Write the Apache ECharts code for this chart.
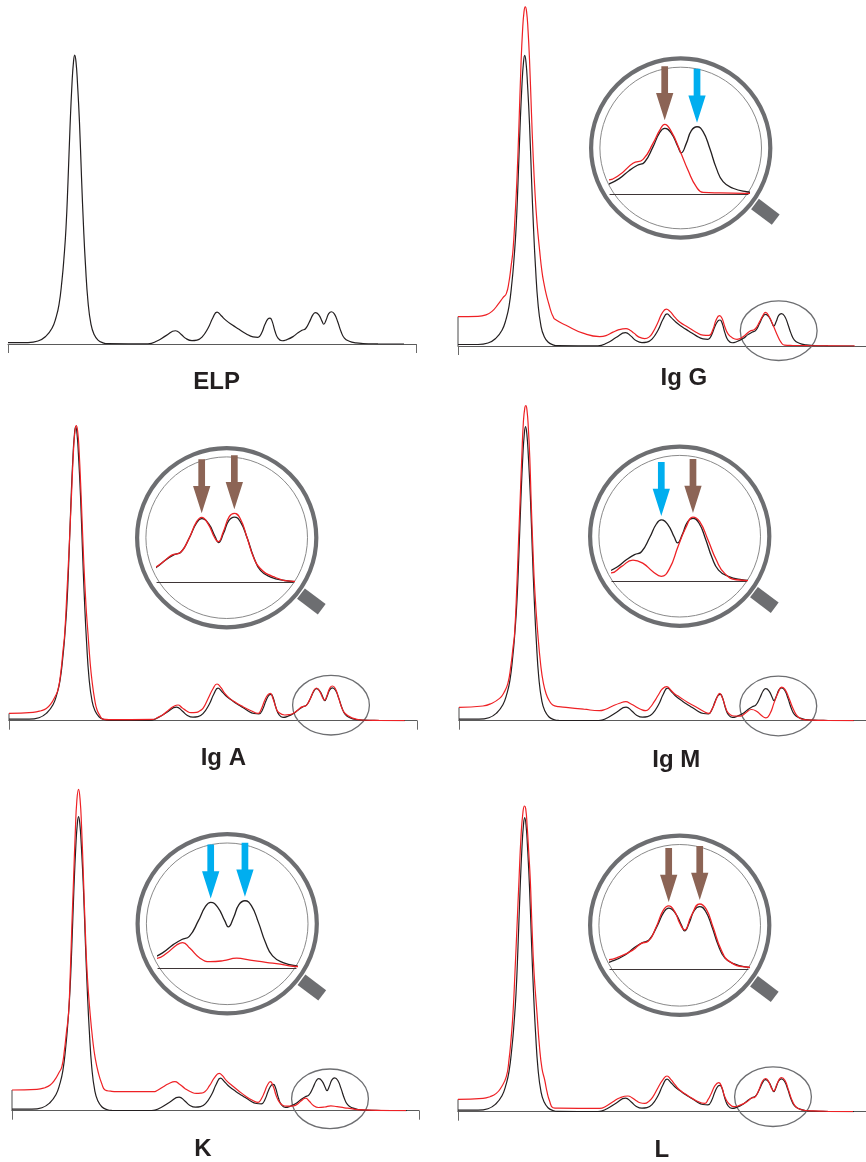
<!DOCTYPE html>
<html>
<head>
<meta charset="utf-8">
<script src="https://cdn.jsdelivr.net/npm/echarts@6/dist/echarts.min.js"></script>
<style>
html,body{margin:0;padding:0;background:#fff;}
#chart{width:866px;height:1162px;}
</style>
</head>
<body>
<div id="chart"></div>
<script>
// ---------------- DATA (mobility position, signal intensity) ----------------
const panelNames = ['ELP', 'Ig G', 'Ig A', 'Ig M', 'K', 'L'];

// reference serum protein electrophoresis (black trace, same in all panels)
const elp = [
  [0,1.5],[20,1.5],[30,3],[38,8],[44,16],[48,27],[51,40],[54,65],[56,88],[58,118],[60,165],[62,220],
  [64,265],[65.5,287],[66.7,294],[68,287],[69.5,265],[71.5,225],[73.5,170],[75.5,120],[77.5,80],[80,43],
  [83,20],[86,10],[90,4],[95,1.2],[100,0.3],[140,0.2],[149,3],[158,8.5],[167.5,13.5],[173,10],[178,5.5],
  [184,3.5],[189,4],[194,7],[200,16],[205,27],[209,32.5],[213,29],[218,24],[224,19.5],[231,15],[238,10.5],
  [245,7.2],[250,6.8],[253.5,11],[257,20],[260,25.5],[262,26.3],[264,23.5],[267,13],[270,6],[274,3.3],
  [279,4.5],[285,7.5],[290,11.5],[294,14],[297.5,15.5],[301.7,23],[305,29.9],[307.5,32],[310.8,29.6],
  [314.1,23],[315.7,20.1],[318.2,24.7],[320.7,30.9],[323.5,32.8],[326.5,30.4],[329.8,22.3],[333.1,12.5],
  [336.4,6],[341.3,2.8],[348,1.1],[355,0.5],[370,0.2],[396,0]
];

// immunofixation / subtraction traces (red)
const igG = [
  [0,29.7],[20,30],[28,31.5],[34,35],[40,42],[45,49],[48.3,53],[51,65],[53,80],[55,97],[57,130],[59,170],
  [61,225],[63,285],[64.5,318],[66,338],[67.3,343],[68.6,338],[70,320],[71.5,290],[73.5,235],[75,196],
  [77,155],[79,125],[81.7,96],[84,75],[86,63],[88.3,52],[91,42],[93,35],[95,30],[97,27],[108,21],[125,13],
  [141.7,9.5],[148,10.5],[155,14],[161,16.5],[168,17.5],[172,16],[176,13],[181,9],[186.7,7.5],[191,9],
  [195,14],[200,24],[204,33],[208.3,37.3],[212,35],[217,29],[222,24],[230,19],[238,14],[245,11],[251,10.7],
  [255,17],[258,26],[261.5,30.7],[264,28],[267,19],[270,12.3],[274,8.5],[279,6.8],[285,9.3],[291.8,15],
  [296.8,16.9],[301.7,24.7],[305,31],[307.5,34],[310.8,30.4],[314.9,21.5],[319,11.7],[323.1,3.6],
  [326.5,0.8],[335,0.5],[350,0.3],[397,0]
];
const igA = [
  [0,7.3],[24,8.3],[32,10],[37.3,12.3],[42,17],[46,24],[49,31],[52,50],[54,70],[55.7,87],[58,130],[60,170],
  [62.3,221],[64.5,270],[66,290],[67.3,295],[68.6,290],[70,272],[72.3,221],[74.5,165],[77,115],[79,87],
  [81,60],[83,40],[85.7,21],[88,11],[91,5],[94,1.5],[100,1],[144,1.3],[149,3.5],[154,6],[160,11],[165,14.5],
  [169,15.7],[173,13],[177.3,10],[182,8],[187.3,8.3],[191,10],[194,12.3],[199,22],[204,32],[208,36.7],
  [212,33],[216,27],[220.7,22.3],[227,18],[234,14],[242,10],[249,7.3],[252,11],[256,21],[259,26],
  [261.3,27.3],[264,22],[267,13],[269,9],[275.7,5.7],[280,6],[284,7.2],[288.7,10.5],[292.8,13.8],
  [296.9,15],[300.9,21.3],[305,30.5],[307.5,32.7],[310.7,29.3],[314,22.2],[315.6,20.5],[318.1,25.5],
  [321,33],[323.5,34.7],[326.3,32.2],[329.6,23],[332.8,13],[336.1,7.2],[342.6,3],[352.4,0.7],[370,0.3],
  [395.7,0]
];
const igM = [
  [0,13.3],[24,14.7],[32,17],[40.7,22.3],[45,28],[49,37.3],[52,55],[54,72],[55.7,87],[58,135],[59.5,175],
  [61.3,221],[63,265],[64.5,298],[66,313],[67,315],[68.2,310],[69.5,293],[71,262],[72.3,221],[74,175],
  [76,130],[79,87],[82,55],[84.5,38],[87.3,27],[90.5,20],[94,15.7],[100,14],[107.3,13.3],[125,11.5],
  [140.7,10],[147,11.5],[154,14.7],[161,17.5],[167.3,19],[172,17],[177.3,14],[182,11.5],[187.3,10],
  [191,12.5],[195.7,19],[200,26],[204,32],[208.3,34],[212,31],[216,27],[220.7,24],[229,18.5],[237.3,14],
  [245,9.5],[250.7,7.3],[253,10.5],[255.7,15.7],[258.5,23],[261.3,27.3],[264,23],[267,14],[269,9],[272,6],
  [275.7,4.7],[282.2,4.6],[287.3,7.8],[293.2,11.2],[298.3,9.5],[303.3,5.2],[307.5,2.8],[311.7,6.9],
  [315.9,18.1],[320.1,28.5],[323.5,33.5],[326.9,31.1],[331.1,21.6],[335.3,11.2],[339.5,4.3],[345.4,1],
  [354,0.5],[370,0.2],[395.7,0]
];
const kappa = [
  [0,20.7],[25,21.3],[33,23],[38.3,25.7],[43,31],[47,38],[50,44],[52.5,60],[54.5,78],[56.7,97.3],[58.5,140],
  [60,185],[61.7,231],[63.5,280],[65,310],[66.7,321.3],[68.2,312],[69.7,285],[71.7,231],[73.5,180],
  [75.5,135],[78.3,97.3],[81,70],[83.5,52],[86.7,37.3],[90,27],[93.3,20.7],[99,19.5],[105,19],[141.7,19],
  [146,20.5],[151.7,24],[157,27],[163.3,29],[168,26.5],[173.3,22.3],[179,19],[185,17.3],[189,17.5],
  [193.3,19],[198,25],[203,33],[207.7,37.3],[211,35],[215,30],[220,25.7],[227,20],[235,14],[241,10.5],
  [246.7,8.3],[250,12],[253.3,19],[256,25.5],[259,29],[262,24],[264.5,16],[266.7,10.7],[270,6.5],
  [273.3,4.7],[278,4.5],[282.3,4.8],[286.9,7.3],[291.6,11.3],[294.4,12.5],[297.8,9.7],[302.5,4.9],
  [307.2,3.2],[313.4,3.7],[319.6,4.9],[325.9,4],[333.3,2.9],[340,2],[345.9,1],[365,0.4],[395,0]
];
const lambda = [
  [0,12.3],[25,13.3],[32,15],[38.3,18.3],[43,24],[48.3,35],[51,52],[53,72],[55,98.3],[57,140],[59,185],
  [61,231.7],[63,275],[65,300],[66.5,305.7],[67.7,303],[69.2,285],[70.7,260],[72.3,231.7],[74,185],[76,140],
  [79,98.3],[81.5,65],[84,43],[86.7,31.7],[89,20],[91.5,11],[95,4],[100,3.5],[141.7,3.3],[148,5.5],[155,10],
  [162,14],[170,15.7],[174,14],[178.3,11],[182,9],[186.7,8.3],[191,10.5],[195,15],[200,24],[205,32],
  [209,35.7],[213,32],[217,27],[221.7,21.7],[230,16],[238.3,11],[246.7,8.3],[250,12],[253.3,18.3],[257,26],
  [260.7,29],[264,24],[266,17],[268.3,11.7],[271,8],[276.2,5],[282.2,6.6],[289.1,10.1],[293.4,13.6],
  [296.8,14.5],[301.1,22.3],[304.6,30.7],[307.5,33.2],[310.6,30.2],[313.2,24.1],[315.7,20.6],[319.1,27.9],
  [323.5,34.2],[326.9,31.4],[330.3,22.3],[334.6,10.1],[338.9,4],[347.5,1.2],[355,0.8],[370,0.4],[395,0]
];

// peaks marked by arrows in the magnified views (mobility positions)
const arrowsIgG = [307.5, 323.5];
const arrowsIgA = [307.5, 323.5];
const arrowsIgM = [307.5, 323.5];
const arrowsK   = [307.5, 323.5];
const arrowsL   = [307.5, 323.5];

// ---------------- STYLE / LAYOUT ----------------
const BLACK = '#231f20', RED = '#ee2125', BROWN = '#8c6455', BLUE = '#00aeef', GRAY = '#6d6e71';
const Y_MAX = 350, X_MAX = 408;

const panels = [
  {name: panelNames[0], red: null,   left: 8,   width: 408, base: 344,   label: [216.7, 382.5]},
  {name: panelNames[1], red: igG,    left: 458, width: 408, base: 346,   label: [683.8, 378.5],
   inset: {left: 610, right: 748, base: 194,   sx: 2.02, sy: 2.05, pA: 664.7, c: [680.7, 148],  ell: [778.7, 330.7]},
   arrows: arrowsIgG, arrowOn: ['red', 'black'], arrowCol: [BROWN, BLUE]},
  {name: panelNames[2], red: igA,    left: 9,   width: 408, base: 720.7, label: [223.3, 758],
   inset: {left: 157, right: 293.3, base: 582.7, sx: 2.04, sy: 2.0, pA: 201.7, c: [226.7, 537.7], ell: [331, 705.2]},
   arrows: arrowsIgA, arrowOn: ['red', 'red'], arrowCol: [BROWN, BROWN]},
  {name: panelNames[3], red: igM,    left: 459, width: 407, base: 720.7, label: [676.3, 760.5],
   inset: {left: 612, right: 746.3, base: 581.7, sx: 1.98, sy: 1.93, pA: 661.3, c: [679.7, 536.2], ell: [778.3, 706]},
   arrows: arrowsIgM, arrowOn: ['black', 'red'], arrowCol: [BLUE, BROWN]},
  {name: panelNames[4], red: kappa,  left: 12,  width: 407, base: 1110.7, label: [202.8, 1149.5],
   inset: {left: 158, right: 296, base: 968.3, sx: 2.14, sy: 2.06, pA: 210.7, c: [227.2, 923.8], ell: [330, 1098.8]},
   arrows: arrowsK, arrowOn: ['black', 'black'], arrowCol: [BLUE, BLUE]},
  {name: panelNames[5], red: lambda, left: 458, width: 408, base: 1111.7, label: [661.8, 1150],
   inset: {left: 610, right: 748, base: 969.3, sx: 1.94, sy: 1.91, pA: 668.7, c: [679.7, 925.3], ell: [773, 1096.7]},
   arrows: arrowsL, arrowOn: ['red', 'red'], arrowCol: [BROWN, BROWN]}
];

const ARROW_PATH = 'path://M5.3,0 L12,0 L12,27.3 L17.3,27.3 L8.65,55 L0,27.3 L5.3,27.3 Z';
const INSET_YMAX = 75;
const PEAK_REF = 307.5;

function valueAt(arr, x) {
  let best = arr[0];
  for (const p of arr) if (Math.abs(p[0] - x) < Math.abs(best[0] - x)) best = p;
  return best;
}

const grid = [], xAxis = [], yAxis = [], series = [], graphic = [];

function lineSeries(gi, data, color, width, extra) {
  return Object.assign({
    type: 'line', xAxisIndex: gi, yAxisIndex: gi, data: data,
    showSymbol: false, symbol: 'none', smooth: 0.5,
    lineStyle: {color: color, width: width}, silent: true, animation: false, z: 3
  }, extra || {});
}

panels.forEach(function (p) {
  // main panel
  const gi = grid.length;
  grid.push({left: p.left, width: p.width, bottom: 1162 - p.base, height: Y_MAX, containLabel: false});
  xAxis.push({
    type: 'value', gridIndex: gi, min: 0, max: X_MAX, interval: X_MAX,
    axisLine: {show: true, lineStyle: {color: '#5a5a5a', width: 1}},
    axisTick: {show: true, length: 9, inside: false, lineStyle: {color: '#6a6a6a', width: 1}},
    axisLabel: {show: false}, splitLine: {show: false}
  });
  yAxis.push({type: 'value', gridIndex: gi, min: 0, max: Y_MAX, show: false});
  if (p.red) {
    series.push(lineSeries(gi, [[0, 0], [0, p.red[0][1]]], '#4a4a4a', 1, {smooth: false}));
  }
  series.push(lineSeries(gi, elp, BLACK, 1.2));
  if (p.red) series.push(lineSeries(gi, p.red, RED, 1.2, {z: 4}));

  graphic.push({
    type: 'text', x: p.label[0], y: p.label[1], z: 10,
    style: {text: p.name, fill: BLACK, font: 'bold 24px "Liberation Sans", Arial, sans-serif',
            textAlign: 'center', textVerticalAlign: 'middle'}
  });

  if (!p.inset) return;
  const s = p.inset;
  // circled region in the main panel
  graphic.push({type: 'ellipse', z: 1, silent: true,
    shape: {cx: s.ell[0], cy: s.ell[1], rx: 38.4, ry: 29.8},
    style: {fill: 'none', stroke: GRAY, lineWidth: 1.3}});
  // magnifier
  graphic.push({type: 'circle', z: 1, silent: true,
    shape: {cx: s.c[0], cy: s.c[1], r: 89.6}, style: {fill: '#fff', stroke: GRAY, lineWidth: 4.2}});
  graphic.push({type: 'circle', z: 1, silent: true,
    shape: {cx: s.c[0], cy: s.c[1], r: 80.8}, style: {fill: 'none', stroke: '#8a8a8a', lineWidth: 1}});
  const ang = 37 * Math.PI / 180;
  graphic.push({type: 'rect', z: 1, silent: true,
    x: s.c[0] + 106 * Math.cos(ang), y: s.c[1] + 106 * Math.sin(ang), rotation: -ang,
    shape: {x: -13, y: -6.5, width: 26, height: 13}, style: {fill: GRAY}});

  // magnified view
  const ii = grid.length;
  const xMin = PEAK_REF - (s.pA - s.left) / s.sx;
  const xMax = PEAK_REF + (s.right - s.pA) / s.sx;
  grid.push({left: s.left, width: s.right - s.left, bottom: 1162 - s.base, height: INSET_YMAX * s.sy, z: 5});
  xAxis.push({
    type: 'value', gridIndex: ii, min: xMin, max: xMax,
    axisLine: {show: true, lineStyle: {color: '#3e3536', width: 1.2}},
    axisTick: {show: false}, axisLabel: {show: false}, splitLine: {show: false}, z: 5
  });
  yAxis.push({type: 'value', gridIndex: ii, min: 0, max: INSET_YMAX, show: false});

  const curves = {black: elp, red: p.red};
  const marks = {black: [], red: []};
  p.arrows.forEach(function (ax, k) {
    const on = p.arrowOn[k];
    const pt = valueAt(curves[on], ax);
    marks[on].push({
      coord: [pt[0], pt[1]], symbol: ARROW_PATH, symbolSize: [17.3, 54],
      symbolOffset: [0, -31], itemStyle: {color: p.arrowCol[k]}
    });
  });
  ['black', 'red'].forEach(function (key) {
    series.push(lineSeries(ii, curves[key], key === 'black' ? BLACK : RED, 1.3, {
      z: key === 'black' ? 6 : 7,
      markPoint: marks[key].length ? {
        silent: true, animation: false, label: {show: false}, data: marks[key], z: 9
      } : undefined
    }));
  });
});

const chart = echarts.init(document.getElementById('chart'), null, {renderer: 'canvas'});
chart.setOption({
  backgroundColor: '#ffffff',
  animation: false,
  grid: grid, xAxis: xAxis, yAxis: yAxis, series: series, graphic: graphic
});
</script>
</body>
</html>
